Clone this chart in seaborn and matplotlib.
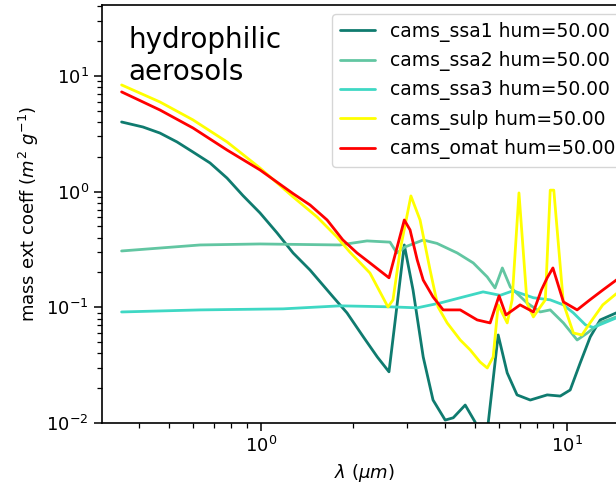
import numpy as np
import pandas as pd
import matplotlib
matplotlib.use("Agg")
import matplotlib.pyplot as plt
import seaborn as sns

# Mass extinction coefficient of hydrophilic CAMS aerosol species (RH = 50%)
labels = ["cams_ssa1 hum=50.00", "cams_ssa2 hum=50.00", "cams_ssa3 hum=50.00",
          "cams_sulp hum=50.00", "cams_omat hum=50.00"]
colors = ["#0f7b6f", "#62c6a2", "#3fd8c4", "#ffff00", "#ff0000"]

ssa1_wl = [0.35, 0.411, 0.467, 0.531, 0.599, 0.681, 0.774, 0.873, 0.992, 1.128, 1.273,
           1.446, 1.72, 1.91, 2.16, 2.40, 2.62, 2.94, 3.14, 3.39, 3.65, 4.0, 4.25, 4.65,
           5.01, 5.25, 5.53, 5.96, 6.38, 6.87, 7.59, 8.62, 9.51, 10.25, 11.05, 11.92,
           12.85, 14.5, 16.1]
ssa1_val = [4.0, 3.62, 3.21, 2.69, 2.20, 1.77, 1.31, 0.923, 0.655, 0.440, 0.295,
            0.210, 0.123, 0.0895, 0.0555, 0.0372, 0.0277, 0.346, 0.141, 0.0372, 0.0158,
            0.0106, 0.0111, 0.0143, 0.0102, 0.006, 0.0100, 0.0577, 0.0271, 0.0175,
            0.0158, 0.0175, 0.0171, 0.0193, 0.033, 0.0555, 0.0778, 0.0895, 0.095]

ssa2_wl = [0.35, 0.632, 0.993, 1.81, 2.22, 2.64, 2.78, 2.96, 3.39, 3.76, 4.38, 4.94, 5.49,
           5.82, 6.15, 6.53, 7.41, 8.18, 8.82, 9.74, 10.8, 11.66, 12.85, 14.5, 16.1]
ssa2_val = [0.307, 0.346, 0.353, 0.346, 0.375, 0.366, 0.295, 0.333, 0.382, 0.357, 0.295,
            0.242, 0.183, 0.147, 0.219, 0.150, 0.109, 0.0912, 0.095, 0.0733, 0.0522, 0.060,
            0.0733, 0.0826, 0.088]

ssa3_wl = [0.35, 0.632, 1.18, 1.81, 2.64, 3.24, 3.85, 4.48, 5.32, 6.05, 6.67, 7.77, 8.82,
           9.74, 10.5, 11.5, 12.2, 14.5, 16.1]
ssa3_val = [0.0912, 0.095, 0.097, 0.103, 0.101, 0.099, 0.109, 0.121, 0.136, 0.127, 0.139,
            0.121, 0.116, 0.105, 0.0895, 0.0705, 0.067, 0.081, 0.086]

sulp_wl = [0.35, 0.467, 0.599, 0.774, 0.992, 1.273, 1.525, 1.77, 1.95, 2.27, 2.60, 2.70,
           2.85, 3.09, 3.31, 3.57, 3.79, 4.06, 4.48, 4.83, 5.20, 5.49, 5.74, 5.96, 6.38,
           6.62, 6.97, 7.41, 7.77, 8.18, 8.50, 8.82, 9.06, 9.74, 10.5, 11.2, 11.9, 13.1,
           14.5, 16.1]
sulp_val = [8.36, 5.96, 4.17, 2.69, 1.60, 0.90, 0.604, 0.406, 0.301, 0.198, 0.1007, 0.116,
            0.313, 0.918, 0.569, 0.210, 0.1007, 0.0733, 0.0522, 0.0428, 0.0337, 0.0299,
            0.0372, 0.105, 0.0733, 0.116, 0.975, 0.108, 0.0826, 0.1007, 0.116, 1.03, 1.03,
            0.108, 0.060, 0.0577, 0.0733, 0.105, 0.131, 0.148]

omat_wl = [0.35, 0.467, 0.599, 0.774, 0.992, 1.273, 1.446, 1.644, 1.85, 2.06, 2.27, 2.62,
           2.77, 2.94, 3.07, 3.24, 3.39, 3.65, 3.94, 4.48, 5.09, 5.61, 6.0, 6.32, 7.03,
           7.77, 8.25, 8.62, 9.0, 9.74, 10.8, 11.9, 13.1, 14.5, 16.1]
omat_val = [7.28, 5.08, 3.55, 2.29, 1.54, 0.961, 0.767, 0.569, 0.383, 0.295, 0.242, 0.180,
            0.313, 0.569, 0.467, 0.257, 0.172, 0.123, 0.095, 0.095, 0.0778, 0.0733,
            0.1256, 0.0859, 0.105, 0.0912, 0.141, 0.180, 0.219, 0.1114, 0.095, 0.1163,
            0.141, 0.172, 0.20]

series = [(ssa1_wl, ssa1_val), (ssa2_wl, ssa2_val), (ssa3_wl, ssa3_val),
          (sulp_wl, sulp_val), (omat_wl, omat_val)]

frames = []
for name, (wl, val) in zip(labels, series):
    frames.append(pd.DataFrame({"wavelength": wl, "mext": val, "species": name}))
df = pd.concat(frames, ignore_index=True)

sns.set_style("ticks")
plt.rcParams["font.family"] = ["DejaVu Sans"]
plt.rcParams.update({"text.color": "black", "axes.labelcolor": "black",
                     "xtick.color": "black", "ytick.color": "black"})

fig = plt.figure(figsize=(6.16, 4.86), dpi=100)
ax = fig.add_axes([0.1656, 0.1296, 0.8506, 0.860])

sns.lineplot(data=df, x="wavelength", y="mext", hue="species", hue_order=labels,
             palette=dict(zip(labels, colors)), linewidth=2.0, sort=False,
             estimator=None, ax=ax)

ax.set_xscale("log")
ax.set_yscale("log")
ax.set_xlim(0.302, 15.6)
ax.set_ylim(0.01, 41)
for side in ("top", "right", "left", "bottom"):
    ax.spines[side].set_visible(True)
    ax.spines[side].set_linewidth(1.2)
    ax.spines[side].set_color("black")

ax.tick_params(axis="both", which="major", labelsize=13, length=6, width=1.1,
               direction="out", colors="black")
ax.tick_params(axis="both", which="minor", length=3.5, width=0.9, direction="out",
               colors="black")
ax.set_xlabel(r"$\lambda$ ($\mu m$)", fontsize=13)
ax.set_ylabel(r"mass ext coeff ($m^2$ $g^{-1}$)", fontsize=13)

ax.text(0.05, 0.95, "hydrophilic\naerosols", transform=ax.transAxes,
        fontsize=20, va="top", ha="left")

ax.legend(loc="upper left", bbox_to_anchor=(0.439, 0.978), borderaxespad=0,
          fontsize=13.5, frameon=True, handlelength=1.9)

fig.savefig("out.png", dpi=100)
